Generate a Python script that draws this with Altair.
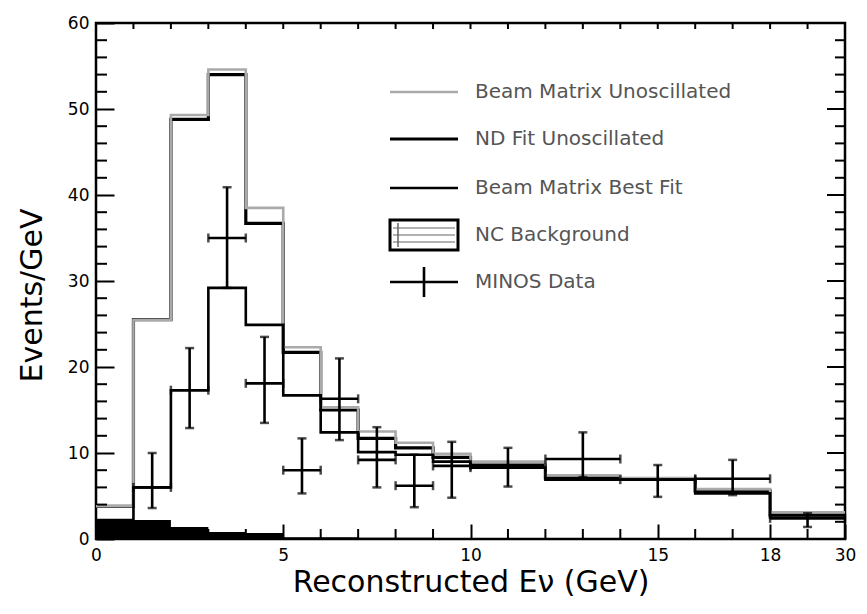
import altair as alt
import pandas as pd

# ---------------- data ----------------
bin_edges = [0, 1, 2, 3, 4, 5, 6, 7, 8, 9, 10, 12, 14, 16, 18, 30]
beam_matrix_unosc = [3.8, 25.5, 49.3, 54.6, 38.5, 22.3, 15.3, 12.5, 11.2, 9.9, 9.0, 7.4, 7.1, 5.8, 3.1]
nd_fit_unosc = [3.8, 25.5, 48.8, 54.0, 36.7, 21.7, 15.0, 11.7, 10.6, 9.5, 8.6, 7.1, 7.0, 5.6, 2.8]
beam_matrix_best_fit = [2.2, 6.0, 17.3, 29.2, 24.9, 16.7, 12.4, 10.1, 9.8, 9.0, 8.3, 6.9, 6.9, 5.3, 2.5]
nc_background = [2.2, 2.2, 1.4, 0.8, 0.7, 0.2, 0.2, 0.15, 0.15, 0.1, 0.1, 0.1, 0.1, 0.1, 0.1]

data_lo_edge = [1, 2, 3, 4, 5, 6, 7, 8, 9, 10, 12, 14, 16, 18]
data_hi_edge = [2, 3, 4, 5, 6, 7, 8, 9, 10, 12, 14, 16, 18, 30]
data_value = [6.0, 17.3, 35.0, 18.1, 8.0, 16.3, 9.2, 6.2, 8.5, 8.3, 9.3, 6.9, 7.0, 2.4]
data_err_lo = [3.6, 12.9, 29.2, 13.5, 5.3, 11.5, 6.0, 3.7, 4.8, 6.1, 7.2, 4.9, 5.1, 1.4]
data_err_hi = [10.0, 22.2, 40.9, 23.5, 11.7, 21.0, 13.0, 9.8, 11.3, 10.6, 12.4, 8.6, 9.2, 3.0]

x_major = [0, 5, 10, 15, 18, 20]          # display units; 20 = 30 GeV
x_minor = [1, 2, 3, 4, 6, 7, 8, 9, 11, 12, 13, 14, 16, 17, 19]
y_major = [0, 10, 20, 30, 40, 50, 60]
y_minor = [v for v in range(2, 60, 2) if v % 10 != 0]

legend_labels = ["Beam Matrix Unoscillated", "ND Fit Unoscillated",
                 "Beam Matrix Best Fit", "NC Background", "MINOS Data"]


# axis above 18 GeV is compressed (18-30 GeV drawn as 2 units)
def disp(e):
    return e if e <= 18 else 18 + (e - 18) / 6.0


edges_d = [disp(e) for e in bin_edges]


def step_df(vals):
    return pd.DataFrame({"x": edges_d, "y": list(vals) + [vals[-1]]})


pts = pd.DataFrame({
    "lo": [disp(e) for e in data_lo_edge],
    "hi": [disp(e) for e in data_hi_edge],
    "v": data_value,
    "elo": data_err_lo,
    "ehi": data_err_hi,
})
pts["c"] = (pts["lo"] + pts["hi"]) / 2

FONT = "DejaVu Sans"
W, H = 749, 516
XMAX, YMAX = 20.0, 60.0
XT, YT = 15, 18          # inward major tick lengths on the bottom / left axes
xs = alt.Scale(domain=[0, XMAX], nice=False, zero=False)
ys = alt.Scale(domain=[0, YMAX], nice=False, zero=False)

x_main = alt.Axis(orient="bottom", values=x_major,
                  labelExpr="datum.value == 20 ? '30' : datum.label",
                  ticks=True, tickSize={"expr": "-%d" % XT}, tickWidth=2, tickColor="black",
                  zindex=1, domain=False, grid=False, labelFlush=False,
                  labelFont=FONT, labelFontSize=17, labelPadding=8 + XT, labelColor="black",
                  title="Reconstructed E\u03bd (GeV)", titleFont=FONT, titleFontSize=30,
                  titleFontWeight="normal", titlePadding=4, titleColor="black")
y_main = alt.Axis(orient="left", values=y_major,
                  ticks=True, tickSize={"expr": "-%d" % YT}, tickWidth=2, tickColor="black",
                  zindex=1, domain=False, grid=False,
                  labelFont=FONT, labelFontSize=17, labelPadding=7 + YT, labelColor="black",
                  title="Events/GeV", titleFont=FONT, titleFontSize=30, titleY=272,
                  titleFontWeight="normal", titlePadding=20, titleColor="black")

nc = alt.Chart(step_df(nc_background)).mark_area(
    interpolate="step-after", color="black").encode(
    x=alt.X("x:Q", scale=xs, axis=x_main),
    y=alt.Y("y:Q", scale=ys, axis=y_main))

nd = alt.Chart(step_df(nd_fit_unosc)).mark_line(
    interpolate="step-after", color="black", strokeWidth=3.2).encode(
    x=alt.X("x:Q", scale=xs), y=alt.Y("y:Q", scale=ys))

grey = alt.Chart(step_df(beam_matrix_unosc)).mark_line(
    interpolate="step-after", color="#aaaaaa", strokeWidth=2.6).encode(
    x=alt.X("x:Q", scale=xs), y=alt.Y("y:Q", scale=ys))

bf = alt.Chart(step_df(beam_matrix_best_fit)).mark_line(
    interpolate="step-after", color="black", strokeWidth=2.6).encode(
    x=alt.X("x:Q", scale=xs), y=alt.Y("y:Q", scale=ys))

vbar = alt.Chart(pts).mark_rule(color="black", strokeWidth=2.6).encode(
    x=alt.X("c:Q", scale=xs), y=alt.Y("elo:Q", scale=ys), y2="ehi:Q")

hbar = alt.Chart(pts).mark_rule(color="black", strokeWidth=2.6).encode(
    x=alt.X("lo:Q", scale=xs), x2="hi:Q", y=alt.Y("v:Q", scale=ys))

cap_lo = alt.Chart(pts).mark_tick(orient="horizontal", size=9, thickness=2.5, color="black").encode(
    x=alt.X("c:Q", scale=xs), y=alt.Y("elo:Q", scale=ys))
cap_hi = alt.Chart(pts).mark_tick(orient="horizontal", size=9, thickness=2.5, color="black").encode(
    x=alt.X("c:Q", scale=xs), y=alt.Y("ehi:Q", scale=ys))
cap_l = alt.Chart(pts).mark_tick(orient="vertical", size=9, thickness=2.5, color="black").encode(
    x=alt.X("lo:Q", scale=xs), y=alt.Y("v:Q", scale=ys))
cap_r = alt.Chart(pts).mark_tick(orient="vertical", size=9, thickness=2.5, color="black").encode(
    x=alt.X("hi:Q", scale=xs), y=alt.Y("v:Q", scale=ys))

one = pd.DataFrame({"a": [0]})


def hrule(x0, x1, y, color, w):
    return alt.Chart(one).mark_rule(color=color, strokeWidth=w).encode(
        x=alt.value(x0), x2=alt.value(x1), y=alt.value(y))


def vrule(x, y0, y1, color, w):
    return alt.Chart(one).mark_rule(color=color, strokeWidth=w).encode(
        x=alt.value(x), y=alt.value(y0), y2=alt.value(y1))


# ---------------- remaining inward frame ticks ----------------
tick_layers = []
for t in x_major + x_minor:                      # short ticks along the top
    tick_layers.append(vrule(t / XMAX * W, 1, 6, "black", 2))
for t in x_minor:                                # minor ticks along the bottom
    tick_layers.append(vrule(t / XMAX * W, H - 1, H - 10, "black", 2))
for t in y_minor:                                # minor ticks on the left
    tick_layers.append(hrule(1, 11, H - t / YMAX * H, "black", 2))
for t in y_major + y_minor:                      # ticks on the right
    length = 18 if t % 10 == 0 else 10
    tick_layers.append(hrule(W - 1, W - length, H - t / YMAX * H, "black", 2))

# ---------------- legend (drawn inside the plot) ----------------
row_y = [69, 116, 165, 212, 259]
SX0, SX1, TX = 294, 362, 379
legend_layers = []
for lab, yy in zip(legend_labels, row_y):
    legend_layers.append(alt.Chart(one).mark_text(
        align="left", baseline="middle", font=FONT, fontSize=20, color="#555555").encode(
        x=alt.value(TX), y=alt.value(yy), text=alt.value(lab)))

legend_layers += [
    hrule(SX0, SX1, row_y[0], "#aaaaaa", 2.6),
    hrule(SX0, SX1, row_y[1], "black", 3.2),
    hrule(SX0, SX1, row_y[2], "black", 2.6),
    alt.Chart(one).mark_rect(fill="white", stroke="black", strokeWidth=3).encode(
        x=alt.value(SX0), x2=alt.value(SX1), y=alt.value(row_y[3] - 15), y2=alt.value(row_y[3] + 15)),
    hrule(SX0 + 3, SX1 - 3, row_y[3] - 7, "#999999", 1.5),
    hrule(SX0 + 3, SX1 - 3, row_y[3], "#999999", 1.5),
    hrule(SX0 + 3, SX1 - 3, row_y[3] + 7, "#999999", 1.5),
    vrule(SX0 + 8, row_y[3] - 12, row_y[3] + 12, "#666666", 1.5),
    hrule(SX0, SX1, row_y[4], "black", 2.6),
    vrule((SX0 + SX1) / 2, row_y[4] - 15, row_y[4] + 15, "black", 2.6),
]

chart = alt.layer(
    nc, nd, grey, bf, vbar, hbar, cap_lo, cap_hi, cap_l, cap_r, *tick_layers, *legend_layers
).properties(
    width=W, height=H,
    padding={"left": 88, "top": 15, "right": 14, "bottom": 60},
    autosize="none",
).configure_view(stroke="black", strokeWidth=2.5)

chart.save("out.html", embed_options={"renderer": "svg", "actions": False})
